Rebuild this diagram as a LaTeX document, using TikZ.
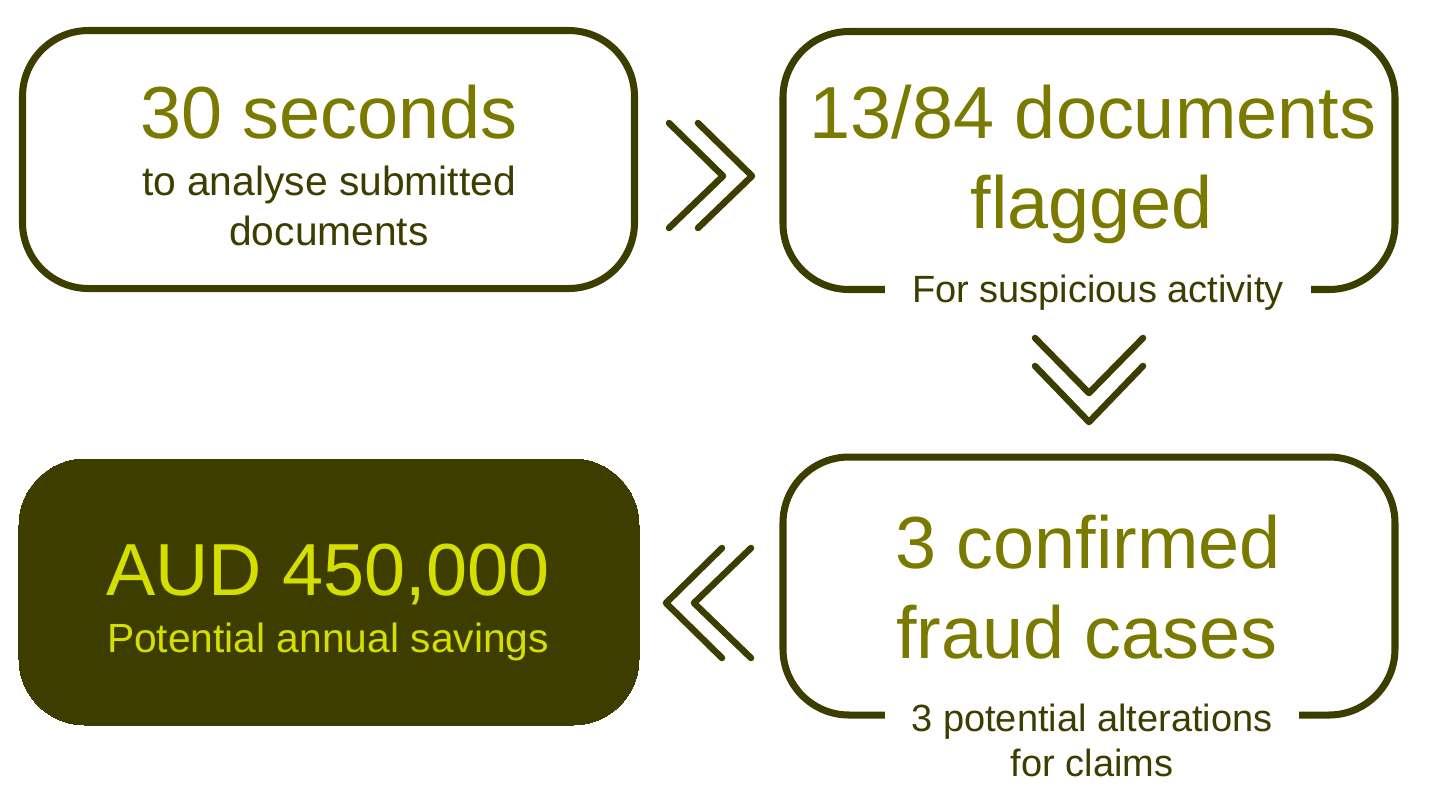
\documentclass[tikz,border=0pt]{standalone}
\usepackage{fontspec}
\setmainfont{Liberation Sans}
\usetikzlibrary{calc}
\definecolor{olivedark}{HTML}{3D3D00}
\definecolor{olivetext}{HTML}{7A7A00}
\definecolor{limetext}{HTML}{D4DE00}
\tikzset{every node/.style={inner sep=0pt},
  box/.style={draw=olivedark, line width=2pt, rounded corners=0.66cm, minimum width=6.12cm, minimum height=2.58cm},
  big/.style={anchor=base, text=olivetext, font=\fontsize{21}{24}\selectfont},
  sub/.style={anchor=base, text=olivedark, font=\fontsize{11.6}{13.4}\selectfont},
  subs/.style={anchor=base, text=olivedark, font=\fontsize{10.8}{12.8}\selectfont},
  gap/.style={fill=white, inner xsep=0.27cm, inner ysep=3pt},
  chev/.style={draw=olivedark, line width=1.85pt, line cap=round, line join=round}}

\begin{document}
\begin{tikzpicture}
   \useasboundingbox (0,0) rectangle (14.39,-8.10);
   \node[box] (secs) at (3.285,-1.595) {};
   \node[box] (flag) at (10.89,-1.605) {};
   \node[box] (fraud) at (10.89,-5.86) {};
   \node[box, fill=olivedark, line width=0pt, minimum width=6.2cm, minimum height=2.66cm] (aud) at (3.29,-5.92) {};

   \node[big] (secs-t)  at (3.29,-1.38) {30 seconds};
   \node[sub] (secs-s1) at (3.29,-1.95) {to analyse submitted};
   \node[sub] (secs-s2) at (3.29,-2.45) {documents};

   \node[big] (flag-t1) at (10.93,-1.38) {13/84 documents};
   \node[big] (flag-t2) at (10.92,-2.28) {flagged};
   \node[subs,gap] (flag-s) at (10.98,-3.02) {For suspicious activity};

   \node[big] (fraud-t1) at (10.88,-5.68) {3 confirmed};
   \node[big] (fraud-t2) at (10.87,-6.58) {fraud cases};
   \node[subs,gap] (fraud-s1) at (10.92,-7.31) {3 potential alterations};
   \node[subs] (fraud-s2) at (10.92,-7.76) {for claims};

   \node[big,text=limetext] (aud-t) at (3.28,-5.95) {AUD 450,000};
   \node[sub,text=limetext] (aud-s) at (3.28,-6.52) {Potential annual savings};

   \coordinate (c1) at (7.10,-1.76);
   \coordinate (c2) at (10.89,-3.80);
   \coordinate (c3) at (7.09,-6.03);
   \draw[chev,shift={(c1)}] (-0.41,0.53) -- (0.13,0) -- (-0.41,-0.52);
   \draw[chev,shift={(c1)}] (-0.12,0.53) -- (0.42,0) -- (-0.12,-0.52);
   \draw[chev,shift={(c2)}] (-0.54,0.42) -- (0,-0.13) -- (0.54,0.42);
   \draw[chev,shift={(c2)}] (-0.54,0.14) -- (0,-0.42) -- (0.54,0.14);
   \draw[chev,shift={(c3)}] (0.13,0.55) -- (-0.43,0) -- (0.13,-0.55);
   \draw[chev,shift={(c3)}] (0.42,0.55) -- (-0.15,0) -- (0.42,-0.55);
\end{tikzpicture}
\end{document}
